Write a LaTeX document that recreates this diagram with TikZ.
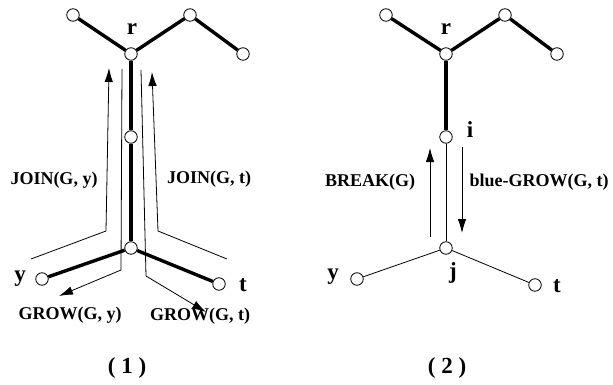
\documentclass[tikz,border=0pt]{standalone}
\usepackage{fontspec}
\setmainfont{Liberation Serif}
\usetikzlibrary{arrows.meta}
\begin{document}
\begin{tikzpicture}[x=1pt,y=-1pt,
  vert/.style={circle,draw,fill=white,minimum size=12.5pt,inner sep=0pt,line width=0.8pt},
  thick edge/.style={line width=3.4pt},
  thin edge/.style={line width=0.8pt},
  flow/.style={line width=0.8pt,-{Latex[length=14pt,width=8.5pt]}},
  lab/.style={font=\fontsize{18}{20}\selectfont\bfseries,inner sep=0pt},
  vlab/.style={font=\fontsize{23}{25}\selectfont\bfseries,inner sep=0pt},
  figcaption/.style={font=\fontsize{23}{25}\selectfont\bfseries,inner sep=0pt}]
\useasboundingbox (0,0) rectangle (613,385);
% ---------- diagram (1) ----------
\coordinate (jy0) at (31,259);
\coordinate (jy1) at (106,231);
\coordinate (jy2) at (109,68);
\coordinate (gy0) at (122,69);
\coordinate (gy1) at (121,270);
\coordinate (gy2) at (59,296);
\coordinate (gt0) at (141,70);
\coordinate (gt1) at (146,276);
\coordinate (gt2) at (206,312);
\coordinate (jt0) at (227,259);
\coordinate (jt1) at (158,231);
\coordinate (jt2) at (152,72);
\draw[flow] (jy0) -- (jy1) -- (jy2);
\draw[flow] (gy0) -- (gy1) -- (gy2);
\draw[flow] (gt0) -- (gt1) -- (gt2);
\draw[flow] (jt0) -- (jt1) -- (jt2);

\node[vert] (a1) at (73,15) {};
\node[vert] (r1) at (131,54) {};
\node[vert] (b1) at (190,15) {};
\node[vert] (c1) at (243,54) {};
\node[vert] (m1) at (131,137) {};
\node[vert] (j1) at (131,248) {};
\node[vert] (y1) at (42,279) {};
\node[vert] (t1) at (219,284) {};
\draw[thick edge] (r1) -- (a1);
\draw[thick edge] (r1) -- (b1);
\draw[thick edge] (b1) -- (c1);
\draw[thick edge] (r1) -- (m1);
\draw[thick edge] (m1) -- (j1);
\draw[thick edge] (j1) -- (y1);
\draw[thick edge] (j1) -- (t1);

\node[vlab] (lr1) at (132,29) {r};
\node[vlab] (ly1) at (20,279) {y};
\node[vlab] (lt1) at (243,285) {t};
\node[lab] (joy) at (54,180) {JOIN(G, y)};
\node[lab] (jot) at (209,179) {JOIN(G, t)};
\node[lab] (gry) at (70,315) {GROW(G, y)};
\node[lab] (grt) at (200,316) {GROW(G, t)};
\node[figcaption] (cap1) at (127,368) {( 1 )};
% ---------- diagram (2) ----------
\coordinate (br0) at (430,237);
\coordinate (br1) at (430,148);
\coordinate (bg0) at (462,147);
\coordinate (bg1) at (462,233);
\draw[flow] (br0) -- (br1);
\draw[flow] (bg0) -- (bg1);

\node[vert] (a2) at (386,15) {};
\node[vert] (r2) at (446,54) {};
\node[vert] (b2) at (505,15) {};
\node[vert] (c2) at (557,54) {};
\node[vert] (i2) at (446,137) {};
\node[vert] (j2) at (446,248) {};
\node[vert] (y2) at (357,279) {};
\node[vert] (t2) at (535,285) {};
\draw[thick edge] (r2) -- (a2);
\draw[thick edge] (r2) -- (b2);
\draw[thick edge] (b2) -- (c2);
\draw[thick edge] (r2) -- (i2);
\draw[thin edge] (i2) -- (j2);
\draw[thin edge] (j2) -- (y2);
\draw[thin edge] (j2) -- (t2);

\node[vlab] (lr2) at (446,29) {r};
\node[vlab] (li2) at (470,130) {i};
\node[vlab] (lj2) at (453,273) {j};
\node[vlab] (ly2) at (333,277) {y};
\node[vlab] (lt2) at (557,286) {t};
\node[lab] (brk) at (370,182) {BREAK(G)};
\node[lab] (bgr) at (539,182) {blue-GROW(G, t)};
\node[figcaption] (cap2) at (447,368) {( 2 )};
\end{tikzpicture}
\end{document}
